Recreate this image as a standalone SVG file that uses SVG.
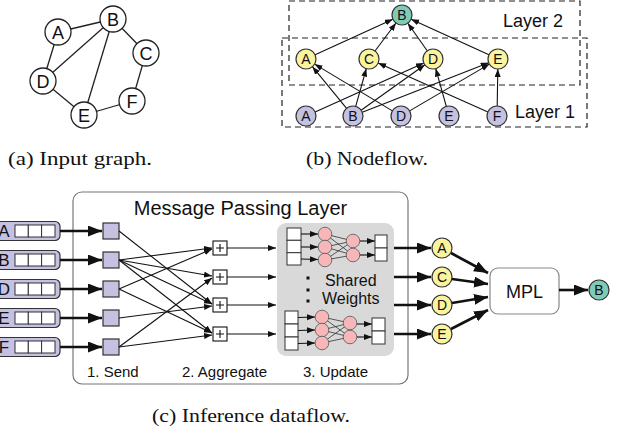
<svg xmlns="http://www.w3.org/2000/svg" width="618" height="435" viewBox="0 0 618 435">
<style>
.t{font-family:"Liberation Sans",Arial,sans-serif;fill:#111}
.cap{font-family:"Liberation Serif","Times New Roman",serif;fill:#111;font-size:19px}
.gc{fill:#fff;stroke:#222;stroke-width:1.3}
.e{stroke:#222;stroke-width:1.3;fill:none}
.pur{fill:#c5c1e0;stroke:#333;stroke-width:1.2}
.yel{fill:#fbf49f;stroke:#333;stroke-width:1.2}
.teal{fill:#7fcbb8;stroke:#333;stroke-width:1.2}
.pink{fill:#f7b7b9;stroke:#555;stroke-width:0.8}
.thin{stroke:#111;stroke-width:1.1;fill:none;marker-end:url(#sa)}
.thick{stroke:#111;stroke-width:2.6;fill:none;marker-end:url(#la)}
.cell{fill:#fff;stroke:#333;stroke-width:1}
.dash{fill:none;stroke:#222;stroke-width:1.2;stroke-dasharray:6,4}
.nn{stroke:#333;stroke-width:0.8}
</style>
<defs>
<marker id="sa" markerUnits="userSpaceOnUse" markerWidth="9" markerHeight="7" refX="8" refY="3" orient="auto"><path d="M0,0 L8,3 L0,6 z" fill="#111"/></marker>
<marker id="la" markerUnits="userSpaceOnUse" markerWidth="16" markerHeight="12" refX="14" refY="5.5" orient="auto"><path d="M0,0 L14,5.5 L0,11 z" fill="#111"/></marker>
</defs>

<!-- (a) input graph -->
<g id="graph-edges">
<line class="e" x1="58" y1="32" x2="113" y2="19"/>
<line class="e" x1="58" y1="32" x2="43" y2="81"/>
<line class="e" x1="113" y1="19" x2="43" y2="81"/>
<line class="e" x1="113" y1="19" x2="84" y2="115"/>
<line class="e" x1="113" y1="19" x2="146" y2="53"/>
<line class="e" x1="146" y1="53" x2="132" y2="101"/>
<line class="e" x1="132" y1="101" x2="84" y2="115"/>
<line class="e" x1="43" y1="81" x2="84" y2="115"/>
</g>
<g id="a-A"><circle class="gc" cx="58" cy="32" r="13"/><text class="t" x="58" y="38.5" font-size="18" text-anchor="middle">A</text></g>
<g id="a-B"><circle class="gc" cx="113" cy="19" r="13"/><text class="t" x="113" y="25.5" font-size="18" text-anchor="middle">B</text></g>
<g id="a-C"><circle class="gc" cx="146" cy="53" r="13"/><text class="t" x="146" y="59.5" font-size="18" text-anchor="middle">C</text></g>
<g id="a-D"><circle class="gc" cx="43" cy="81" r="13"/><text class="t" x="43" y="87.5" font-size="18" text-anchor="middle">D</text></g>
<g id="a-E"><circle class="gc" cx="84" cy="115" r="13"/><text class="t" x="84" y="121.5" font-size="18" text-anchor="middle">E</text></g>
<g id="a-F"><circle class="gc" cx="132" cy="101" r="13"/><text class="t" x="132" y="107.5" font-size="18" text-anchor="middle">F</text></g>
<text class="cap" x="8" y="165" textLength="144" lengthAdjust="spacingAndGlyphs">(a) Input graph.</text>

<!-- (b) nodeflow -->
<g id="layer2"><rect class="dash" x="289" y="1" width="291" height="84"/><text class="t" x="503" y="27" font-size="18">Layer 2</text></g>
<g id="layer1"><rect class="dash" x="282" y="38" width="305" height="89"/><text class="t" x="515" y="118" font-size="18">Layer 1</text></g>
<g id="nodeflow-edges">
<line class="thin" x1="315.1" y1="54.8" x2="392.9" y2="19.2"/>
<line class="thin" x1="375" y1="51" x2="396" y2="23"/>
<line class="thin" x1="427.2" y1="50.8" x2="407.8" y2="23.2"/>
<line class="thin" x1="488.9" y1="54.8" x2="411.1" y2="19.2"/>
<line class="thin" x1="346.6" y1="108.3" x2="312.4" y2="66.7"/>
<line class="thin" x1="392.4" y1="110.9" x2="314.6" y2="64.1"/>
<line class="thin" x1="355.7" y1="106.4" x2="366.3" y2="68.6"/>
<line class="thin" x1="487.9" y1="111.9" x2="378.1" y2="63.1"/>
<line class="thin" x1="315.1" y1="111.9" x2="423.9" y2="63.1"/>
<line class="thin" x1="361.1" y1="110.2" x2="424.9" y2="64.8"/>
<line class="thin" x1="446.3" y1="106.4" x2="435.7" y2="68.6"/>
<line class="thin" x1="362.3" y1="112.3" x2="488.7" y2="62.7"/>
<line class="thin" x1="409.6" y1="110.9" x2="489.4" y2="64.1"/>
<line class="thin" x1="497.2" y1="106" x2="497.8" y2="69"/>
</g>
<g id="b-B2"><circle class="teal" cx="402" cy="15" r="10"/><text class="t" x="402" y="20" font-size="14" text-anchor="middle">B</text></g>
<g id="b-A1"><circle class="yel" cx="306" cy="59" r="10"/><text class="t" x="306" y="64" font-size="14" text-anchor="middle">A</text></g>
<g id="b-C1"><circle class="yel" cx="369" cy="59" r="10"/><text class="t" x="369" y="64" font-size="14" text-anchor="middle">C</text></g>
<g id="b-D1"><circle class="yel" cx="433" cy="59" r="10"/><text class="t" x="433" y="64" font-size="14" text-anchor="middle">D</text></g>
<g id="b-E1"><circle class="yel" cx="498" cy="59" r="10"/><text class="t" x="498" y="64" font-size="14" text-anchor="middle">E</text></g>
<g id="b-A0"><circle class="pur" cx="306" cy="116" r="10"/><text class="t" x="306" y="121" font-size="14" text-anchor="middle">A</text></g>
<g id="b-B0"><circle class="pur" cx="353" cy="116" r="10"/><text class="t" x="353" y="121" font-size="14" text-anchor="middle">B</text></g>
<g id="b-D0"><circle class="pur" cx="401" cy="116" r="10"/><text class="t" x="401" y="121" font-size="14" text-anchor="middle">D</text></g>
<g id="b-E0"><circle class="pur" cx="449" cy="116" r="10"/><text class="t" x="449" y="121" font-size="14" text-anchor="middle">E</text></g>
<g id="b-F0"><circle class="pur" cx="497" cy="116" r="10"/><text class="t" x="497" y="121" font-size="14" text-anchor="middle">F</text></g>
<text class="cap" x="306" y="165" textLength="122" lengthAdjust="spacingAndGlyphs">(b) Nodeflow.</text>

<!-- (c) inference dataflow -->
<g id="mpl-layer">
<rect x="73" y="192" width="335" height="192" rx="9" fill="#fff" stroke="#777" stroke-width="1.2"/>
<text class="t" x="240.5" y="215" font-size="20" text-anchor="middle">Message Passing Layer</text>
<text class="t" x="87" y="377" font-size="15">1. Send</text>
<text class="t" x="182" y="377" font-size="15">2. Aggregate</text>
<text class="t" x="303" y="377" font-size="15">3. Update</text>
</g>

<g id="inputs">
<g id="in-A"><rect class="pur" x="-14" y="221.5" width="74" height="19" rx="5" stroke-width="1.5"/><text class="t" x="4" y="237" font-size="17" text-anchor="middle">A</text><rect class="cell" x="15" y="225" width="13.3" height="12"/><rect class="cell" x="28.3" y="225" width="13.3" height="12"/><rect class="cell" x="41.6" y="225" width="13.4" height="12"/></g>
<g id="in-B"><rect class="pur" x="-14" y="250.5" width="74" height="19" rx="5" stroke-width="1.5"/><text class="t" x="4" y="266" font-size="17" text-anchor="middle">B</text><rect class="cell" x="15" y="254" width="13.3" height="12"/><rect class="cell" x="28.3" y="254" width="13.3" height="12"/><rect class="cell" x="41.6" y="254" width="13.4" height="12"/></g>
<g id="in-D"><rect class="pur" x="-14" y="279.5" width="74" height="19" rx="5" stroke-width="1.5"/><text class="t" x="4" y="295" font-size="17" text-anchor="middle">D</text><rect class="cell" x="15" y="283" width="13.3" height="12"/><rect class="cell" x="28.3" y="283" width="13.3" height="12"/><rect class="cell" x="41.6" y="283" width="13.4" height="12"/></g>
<g id="in-E"><rect class="pur" x="-14" y="308.5" width="74" height="19" rx="5" stroke-width="1.5"/><text class="t" x="4" y="324" font-size="17" text-anchor="middle">E</text><rect class="cell" x="15" y="312" width="13.3" height="12"/><rect class="cell" x="28.3" y="312" width="13.3" height="12"/><rect class="cell" x="41.6" y="312" width="13.4" height="12"/></g>
<g id="in-F"><rect class="pur" x="-14" y="337.5" width="74" height="19" rx="5" stroke-width="1.5"/><text class="t" x="4" y="353" font-size="17" text-anchor="middle">F</text><rect class="cell" x="15" y="341" width="13.3" height="12"/><rect class="cell" x="28.3" y="341" width="13.3" height="12"/><rect class="cell" x="41.6" y="341" width="13.4" height="12"/></g>
</g>

<g id="send">
<rect class="pur" x="103" y="223" width="16" height="16"/>
<rect class="pur" x="103" y="252" width="16" height="16"/>
<rect class="pur" x="103" y="281" width="16" height="16"/>
<rect class="pur" x="103" y="310" width="16" height="16"/>
<rect class="pur" x="103" y="339" width="16" height="16"/>
</g>

<g id="aggregate" fill="#fff" stroke="#111" stroke-width="1.1">
<rect x="213" y="241" width="14" height="14"/><path d="M216,248 H224 M220,244 V252"/>
<rect x="213" y="270" width="14" height="14"/><path d="M216,277 H224 M220,273 V281"/>
<rect x="213" y="298" width="14" height="14"/><path d="M216,305 H224 M220,301 V309"/>
<rect x="213" y="327" width="14" height="14"/><path d="M216,334 H224 M220,330 V338"/>
</g>

<g id="update">
<rect x="277" y="223" width="117" height="133" rx="9" fill="#d9d9d9"/>
<g id="nn-top">
<rect class="cell" x="287" y="228" width="14" height="12.3"/><rect class="cell" x="287" y="240.3" width="14" height="12.4"/><rect class="cell" x="287" y="252.7" width="14" height="12.3"/>
<g class="nn">
<line x1="325" y1="234" x2="353" y2="241"/><line x1="325" y1="234" x2="353" y2="255"/>
<line x1="325" y1="247" x2="353" y2="241"/><line x1="325" y1="247" x2="353" y2="255"/>
<line x1="325" y1="260" x2="353" y2="241"/><line x1="325" y1="260" x2="353" y2="255"/>
</g>
<line class="thin" x1="301" y1="234" x2="318" y2="234"/><line class="thin" x1="301" y1="247" x2="318" y2="247"/><line class="thin" x1="301" y1="259" x2="318" y2="259.5"/>
<circle class="pink" cx="325" cy="234" r="6.8"/><circle class="pink" cx="325" cy="247" r="6.8"/><circle class="pink" cx="325" cy="260" r="6.8"/>
<circle class="pink" cx="353" cy="241" r="6.8"/><circle class="pink" cx="353" cy="255" r="6.8"/>
<line class="thin" x1="360" y1="241" x2="375" y2="241"/><line class="thin" x1="360" y1="255" x2="375" y2="255"/>
<rect class="cell" x="375" y="235" width="12" height="13"/><rect class="cell" x="375" y="248" width="12" height="13"/>
</g>
<g id="nn-bottom">
<rect class="cell" x="285" y="311" width="13" height="13"/><rect class="cell" x="285" y="324" width="13" height="13"/><rect class="cell" x="285" y="337" width="13" height="13"/>
<g class="nn">
<line x1="322" y1="317" x2="350" y2="323"/><line x1="322" y1="317" x2="350" y2="337"/>
<line x1="322" y1="330" x2="350" y2="323"/><line x1="322" y1="330" x2="350" y2="337"/>
<line x1="322" y1="343" x2="350" y2="323"/><line x1="322" y1="343" x2="350" y2="337"/>
</g>
<line class="thin" x1="298" y1="317.5" x2="315" y2="317"/><line class="thin" x1="298" y1="330.5" x2="315" y2="330"/><line class="thin" x1="298" y1="343.5" x2="315" y2="343"/>
<circle class="pink" cx="322" cy="317" r="6.8"/><circle class="pink" cx="322" cy="330" r="6.8"/><circle class="pink" cx="322" cy="343" r="6.8"/>
<circle class="pink" cx="350" cy="323" r="6.8"/><circle class="pink" cx="350" cy="337" r="6.8"/>
<line class="thin" x1="357" y1="324" x2="372" y2="324"/><line class="thin" x1="357" y1="337" x2="372" y2="337"/>
<rect class="cell" x="372" y="318" width="13" height="13"/><rect class="cell" x="372" y="331" width="13" height="13"/>
</g>
<g fill="#111"><rect x="306.5" y="276.5" width="3" height="3"/><rect x="306.5" y="288.5" width="3" height="3"/><rect x="306.5" y="299.5" width="3" height="3"/></g>
<text class="t" x="325" y="286" font-size="16">Shared</text>
<text class="t" x="322" y="304" font-size="16">Weights</text>
</g>

<g id="out-A"><circle class="yel" cx="442" cy="248" r="10"/><text class="t" x="442" y="253" font-size="14" text-anchor="middle">A</text></g>
<g id="out-C"><circle class="yel" cx="442" cy="277" r="10"/><text class="t" x="442" y="282" font-size="14" text-anchor="middle">C</text></g>
<g id="out-D"><circle class="yel" cx="442" cy="305" r="10"/><text class="t" x="442" y="310" font-size="14" text-anchor="middle">D</text></g>
<g id="out-E"><circle class="yel" cx="442" cy="334" r="10"/><text class="t" x="442" y="339" font-size="14" text-anchor="middle">E</text></g>
<g id="mpl"><rect x="490" y="268" width="69" height="46" rx="8" fill="#fff" stroke="#888" stroke-width="1.2"/><text class="t" x="524.5" y="298" font-size="18" text-anchor="middle">MPL</text></g>
<g id="out-B"><circle class="teal" cx="599" cy="290" r="10"/><text class="t" x="599" y="295" font-size="14" text-anchor="middle">B</text></g>

<g id="dataflow-connectors">
<line class="thick" x1="60" y1="231" x2="102" y2="231"/>
<line class="thick" x1="60" y1="260" x2="102" y2="260"/>
<line class="thick" x1="60" y1="289" x2="102" y2="289"/>
<line class="thick" x1="60" y1="318" x2="102" y2="318"/>
<line class="thick" x1="60" y1="347" x2="102" y2="347"/>
<line class="thin" x1="119" y1="231" x2="212" y2="304"/>
<line class="thin" x1="119" y1="260" x2="212" y2="248"/>
<line class="thin" x1="119" y1="260" x2="212" y2="276"/>
<line class="thin" x1="119" y1="260" x2="212" y2="304"/>
<line class="thin" x1="119" y1="260" x2="212" y2="333"/>
<line class="thin" x1="119" y1="289" x2="212" y2="249"/>
<line class="thin" x1="119" y1="289" x2="212" y2="333"/>
<line class="thin" x1="119" y1="318" x2="212" y2="306"/>
<line class="thin" x1="119" y1="347" x2="212" y2="278"/>
<line class="thin" x1="119" y1="347" x2="212" y2="335"/>
<line class="thin" x1="227" y1="248" x2="276" y2="248"/>
<line class="thin" x1="227" y1="277" x2="276" y2="277"/>
<line class="thin" x1="227" y1="305" x2="276" y2="305"/>
<line class="thin" x1="227" y1="334" x2="276" y2="334"/>
<line class="thick" x1="394" y1="248" x2="431" y2="248"/>
<line class="thick" x1="394" y1="277" x2="431" y2="277"/>
<line class="thick" x1="394" y1="305" x2="431" y2="305"/>
<line class="thick" x1="394" y1="334" x2="431" y2="334"/>
<line class="thick" x1="451" y1="253" x2="488" y2="273"/>
<line class="thick" x1="452" y1="279" x2="488" y2="284"/>
<line class="thick" x1="452" y1="303" x2="488" y2="297"/>
<line class="thick" x1="451" y1="329" x2="488" y2="310"/>
<line class="thick" x1="559" y1="290" x2="588" y2="290"/>
</g>
<text class="cap" x="152" y="422" textLength="198" lengthAdjust="spacingAndGlyphs">(c) Inference dataflow.</text>
</svg>
